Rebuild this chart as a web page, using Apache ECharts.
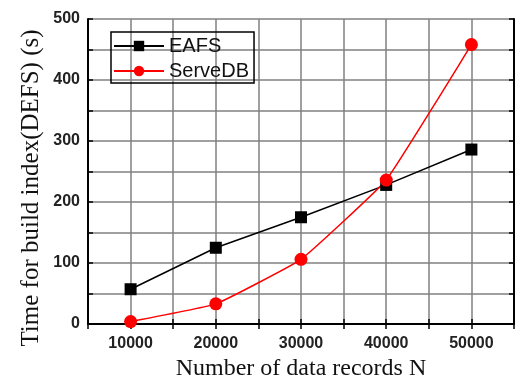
<!DOCTYPE html>
<html><head><meta charset="utf-8">
<script src="https://cdn.jsdelivr.net/npm/echarts@6/dist/echarts.min.js"></script>
<style>html,body{margin:0;padding:0;background:#fff}#c{width:517px;height:386px}</style>
</head><body><div id="c"></div>
<script>
var xValues = [10000, 20000, 30000, 40000, 50000];
var eafs = [57, 125, 175, 228, 286];
var serveDB = [4, 33, 106, 236, 458];
var seriesNames = ['EAFS', 'ServeDB'];
var xTitle = 'Number of data records N';
var yTitle = 'Time for build index(DEFS) (s)';

function pairs(xs, ys){ return xs.map(function(x,i){return [x, ys[i]];}); }

var chart = echarts.init(document.getElementById('c'));
var gridColor = '#808080';
var labelFont = {fontFamily:'Liberation Sans, Arial', fontWeight:'bold', fontSize:16, color:'#222'};
chart.setOption({
  animation:false,
  grid:{left:88, right:3, top:19, bottom:60},
  legend:{
    left:111, top:32, orient:'vertical', itemGap:5,
    itemWidth:50, itemHeight:13,
    borderColor:'#000', borderWidth:1.5, padding:[4,5,2,2],
    textStyle:{fontFamily:'Liberation Sans, Arial', fontSize:20, color:'#111'},
    data:seriesNames
  },
  graphic:[{
    type:'text', x:31, y:188, rotation:Math.PI/2,
    style:{text:yTitle, fill:'#111', font:'25px "Liberation Serif", "Times New Roman"', textAlign:'center', textVerticalAlign:'middle'}
  }],
  xAxis:[{
    type:'value', min:5000, max:55000, interval:5000,
    name:xTitle, nameLocation:'middle', nameGap:33,
    nameTextStyle:{fontFamily:'Liberation Serif, Times New Roman', fontSize:24, color:'#111'},
    axisLine:{lineStyle:{color:'#000', width:2}},
    axisTick:{inside:true, length:5, lineStyle:{color:'#000', width:1.5}},
    axisLabel:Object.assign({margin:12, formatter:function(v){return v%10000===0?String(v):'';}}, labelFont),
    splitLine:{show:true, lineStyle:{color:gridColor, width:1.5}}
  },{
    type:'value', position:'top', min:5000, max:55000, interval:5000,
    axisLine:{show:true, lineStyle:{color:'#000', width:2}},
    axisTick:{inside:true, length:5, lineStyle:{color:'#000', width:1.5}},
    axisLabel:{show:false}, splitLine:{show:false}
  }],
  yAxis:[{
    type:'value', min:0, max:500, interval:50,
    axisLine:{show:true, lineStyle:{color:'#000', width:2}},
    axisTick:{show:true, inside:true, length:5, lineStyle:{color:'#000', width:1.5}},
    axisLabel:Object.assign({margin:8, formatter:function(v){return v%100===0?String(v):'';}}, labelFont),
    splitLine:{show:true, lineStyle:{color:gridColor, width:1.5}}
  },{
    type:'value', position:'right', min:0, max:500, interval:50,
    axisLine:{show:true, lineStyle:{color:'#000', width:2}},
    axisTick:{show:true, inside:true, length:5, lineStyle:{color:'#000', width:1.5}},
    axisLabel:{show:false}, splitLine:{show:false}
  }],
  series:[{
    name:seriesNames[0], type:'line', data:pairs(xValues, eafs),
    symbol:'rect', symbolSize:12,
    lineStyle:{color:'#000', width:1.5}, itemStyle:{color:'#000'}
  },{
    name:seriesNames[1], type:'line', data:pairs(xValues, serveDB),
    symbol:'circle', symbolSize:13, smooth:0.1,
    lineStyle:{color:'#ff0000', width:1.5}, itemStyle:{color:'#ff0000'}
  }]
});
</script></body></html>
